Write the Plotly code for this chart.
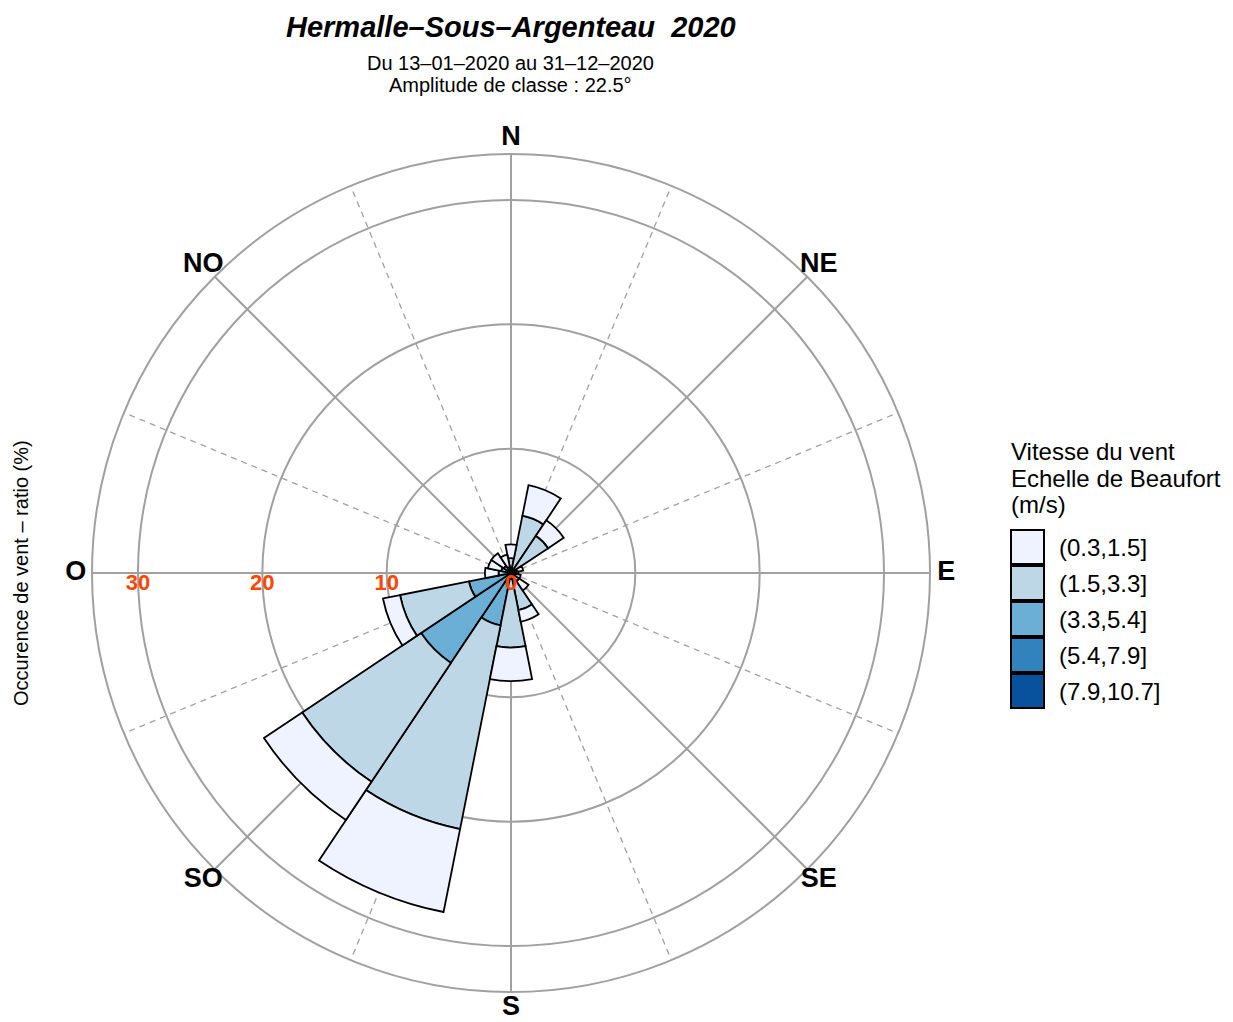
import plotly.graph_objects as go

# ---- data ----
directions = [0, 22.5, 45, 67.5, 90, 112.5, 135, 157.5,
              180, 202.5, 225, 247.5, 270, 292.5, 315, 337.5]
speed_classes = ["(0.3,1.5]", "(1.5,3.3]", "(3.3,5.4]", "(5.4,7.9]", "(7.9,10.7]"]
freq_0_3_1_5 = [1.1, 2.5, 1.5, 0.5, 0.6, 0.8, 0.9, 0.95, 2.7, 6.8, 3.7, 1.4, 1.1, 1.1, 1.2, 1.0]
freq_1_5_3_3 = [1.2, 4.4, 3.4, 0.5, 0.0, 0.0, 0.8, 2.85, 5.5, 16.7, 11.5, 5.65, 1.0, 0.8, 0.7, 0.5]
freq_3_3_5_4 = [0.0, 0.3, 0.2, 0.0, 0.0, 0.0, 0.0, 0.2, 0.5, 4.1, 8.4, 3.35, 0.0, 0.0, 0.0, 0.0]
freq_5_4_7_9 = [0.0, 0.0, 0.0, 0.0, 0.0, 0.0, 0.0, 0.0, 0.0, 0.2, 0.3, 0.1, 0.0, 0.0, 0.0, 0.0]
freq_7_9_10_7 = [0.0, 0.0, 0.0, 0.0, 0.0, 0.0, 0.0, 0.0, 0.0, 0.0, 0.0, 0.0, 0.0, 0.0, 0.0, 0.0]
class_colors = ["#EFF3FF", "#BDD7E7", "#6BAED6", "#3182BD", "#08519C"]

cardinal_angles = [0, 45, 90, 135, 180, 225, 270, 315]
cardinal_labels = ["N", "NE", "E", "SE", "S", "SO", "O", "NO"]
minor_angles = [22.5, 67.5, 112.5, 157.5, 202.5, 247.5, 292.5, 337.5]
radial_ticks = [10, 20, 30]
radial_tick_labels = ["0", "10", "20", "30"]
radial_label_positions = [0, 10, 20, 30]
r_max = 33.7
r_cardinal = 35.0
r_label_max = 36.0

series = [freq_0_3_1_5, freq_1_5_3_3, freq_3_3_5_4, freq_5_4_7_9, freq_7_9_10_7]

W, H = 1233, 1022
OFF = 8  # page body margin
GRID = "#A0A0A0"
FONT = "Liberation Sans, Arial, sans-serif"
CX, CY, RPX = 511, 573, 419  # centre and outer radius of the rose, pixels


def px(x):
    return (x - OFF) / W


def py(y):
    return 1 - (y - OFF) / H


fig = go.Figure()

# bottom subplot: dashed minor direction lines
r_lines, t_lines = [], []
for a in minor_angles:
    r_lines += [0, r_max, None]
    t_lines += [a, a, None]
fig.add_trace(go.Scatterpolar(r=r_lines, theta=t_lines, mode="lines", subplot="polar",
                              line=dict(color=GRID, width=1.3, dash="6px,5px"),
                              hoverinfo="skip", showlegend=False))

# middle subplot: stacked bars, highest speed class at the centre
for i in reversed(range(len(speed_classes))):
    fig.add_trace(go.Barpolar(r=series[i], theta=directions, width=22.5,
                              name=speed_classes[i], subplot="polar2",
                              marker=dict(color=class_colors[i],
                                          line=dict(color="black", width=1.8)),
                              showlegend=False))

# radial value labels
fig.add_trace(go.Scatterpolar(r=radial_label_positions, theta=[270] * 4, mode="text",
                              subplot="polar2",
                              text=radial_tick_labels, textposition="bottom center",
                              textfont=dict(color="#FF4500", size=22, family=FONT, weight="bold"),
                              hoverinfo="skip", showlegend=False))

# top subplot (same scale, larger extent): cardinal direction labels
fig.add_trace(go.Scatterpolar(r=[r_cardinal] * len(cardinal_angles), theta=cardinal_angles,
                              mode="text", subplot="polar3",
                              text=cardinal_labels, textposition="middle center",
                              textfont=dict(color="black", size=27, family=FONT, weight="bold"),
                              hoverinfo="skip", showlegend=False))

dom = dict(x=[px(CX - RPX), px(CX + RPX)], y=[py(CY + RPX), py(CY - RPX)])
R3 = RPX * r_label_max / r_max
dom3 = dict(x=[px(CX - R3), px(CX + R3)], y=[py(CY + R3), py(CY - R3)])
common_ang = dict(rotation=90, direction="clockwise", ticks="", showticklabels=False)
hidden_axes = dict(
    radialaxis=dict(showgrid=False, showticklabels=False, ticks="", showline=False),
    angularaxis=dict(**common_ang, showgrid=False, showline=False),
)
fig.update_layout(
    width=W, height=H, margin=dict(l=0, r=0, t=0, b=0),
    paper_bgcolor="white", plot_bgcolor="white",
    font=dict(family=FONT, color="black"),
    polar=dict(domain=dom, bgcolor="white", **hidden_axes),
    polar2=dict(
        domain=dom, bgcolor="rgba(0,0,0,0)", barmode="stack",
        radialaxis=dict(range=[0, r_max], tickvals=radial_ticks, showticklabels=False,
                        ticks="", showline=False, gridcolor=GRID, gridwidth=2,
                        layer="below traces"),
        angularaxis=dict(**common_ang, tickvals=cardinal_angles,
                         showline=True, linecolor=GRID, linewidth=2,
                         gridcolor=GRID, gridwidth=2, layer="below traces"),
    ),
    polar3=dict(domain=dom3, bgcolor="rgba(0,0,0,0)", **hidden_axes),
)
fig.update_polars(radialaxis_range=[0, r_max], selector=dict(bgcolor="white"))
fig.layout.polar3.radialaxis.range = [0, r_label_max]

# titles
fig.add_annotation(x=px(511), y=py(27), xref="paper", yref="paper", showarrow=False,
                   xanchor="center", yanchor="middle",
                   text="<b><i>Hermalle–Sous–Argenteau  2020</i></b>",
                   font=dict(size=29, family=FONT))
fig.add_annotation(x=px(510), y=py(63), xref="paper", yref="paper", showarrow=False,
                   xanchor="center", yanchor="middle",
                   text="Du 13–01–2020 au 31–12–2020",
                   font=dict(size=20, family=FONT))
fig.add_annotation(x=px(510), y=py(85), xref="paper", yref="paper", showarrow=False,
                   xanchor="center", yanchor="middle",
                   text="Amplitude de classe : 22.5°",
                   font=dict(size=20, family=FONT))
fig.add_annotation(x=px(21), y=py(573), xref="paper", yref="paper", showarrow=False,
                   xanchor="center", yanchor="middle",
                   text="Occurence de vent – ratio (%)", textangle=-90,
                   font=dict(size=20, family=FONT))

# custom legend
for j, line in enumerate(["Vitesse du vent", "Echelle de Beaufort", "(m/s)"]):
    fig.add_annotation(x=px(1009), y=py(451 + 27 * j), xref="paper", yref="paper",
                       showarrow=False, xanchor="left", yanchor="middle", align="left",
                       text=line, font=dict(size=24, family=FONT))
for k, (lab, col) in enumerate(zip(speed_classes, class_colors)):
    top = 530 + 36 * k
    fig.add_shape(type="rect", xref="paper", yref="paper",
                  x0=px(1011), x1=px(1044), y0=py(top + 34), y1=py(top),
                  fillcolor=col, line=dict(color="black", width=2))
    fig.add_annotation(x=px(1057), y=py(top + 17), xref="paper", yref="paper",
                       showarrow=False, xanchor="left", yanchor="middle",
                       text=lab, font=dict(size=24, family=FONT))

fig.write_html("out.html")
